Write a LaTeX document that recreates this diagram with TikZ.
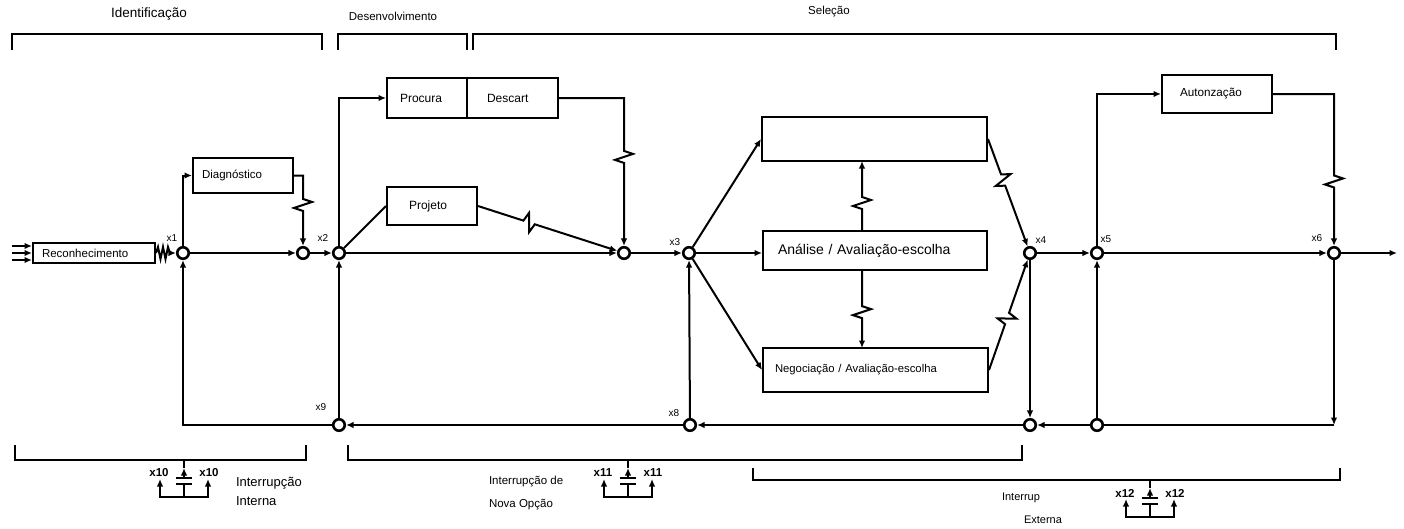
\documentclass[tikz,border=0pt]{standalone}
\usepackage{fontspec}
\setmainfont{Liberation Sans}
\usetikzlibrary{arrows.meta,calc}

\tikzset{
  box/.style={draw, align=left, inner ysep=0pt},
  junc/.style={circle, draw, line width=2.6pt, fill=white, minimum size=11.5pt, inner sep=0pt},
  arr/.style={-{Latex[length=7.5pt,width=6.5pt]}},
  tag/.style={font=\fontsize{10}{12}\selectfont, inner sep=0pt},
  itag/.style={font=\bfseries\fontsize{11.5}{13}\selectfont, inner sep=0pt},
  note/.style={inner sep=0pt, anchor=west},
  % broken (delayed) connection
  brk/.style={to path={
      -- ($(\tikztostart)!#1!(\tikztotarget)!6pt!(\tikztostart)$)
      -- ($(\tikztostart)!#1!(\tikztotarget)!3pt!(\tikztostart)!9pt!90:(\tikztotarget)$)
      -- ($(\tikztostart)!#1!(\tikztotarget)!3pt!(\tikztotarget)!9pt!90:(\tikztostart)$)
      -- ($(\tikztostart)!#1!(\tikztotarget)!6pt!(\tikztotarget)$)
      -- (\tikztotarget)}},
}

\begin{document}
\begin{tikzpicture}[x=1pt, y=-1pt, line width=2pt]
  \useasboundingbox (0,0) rectangle (1404,528);

  % phases
  \foreach \a/\b in {12/322, 338/467, 473/1336}
    \draw (\a,50) |- (\b,34) -- (\b,50);
  \node[font=\fontsize{13.5}{15}\selectfont] (pid) at (149,14) {Identificação};
  \node[font=\fontsize{11.5}{13}\selectfont] (pdes) at (393,16) {Desenvolvimento};
  \node[font=\fontsize{11.5}{13}\selectfont] (psel) at (829,12) {Seleção};

  % routines
  \node[box, font=\fontsize{11.5}{13}\selectfont, text width=104pt, inner xsep=9pt, minimum height=20pt]
    (rec) at (94,253) {Reconhecimento};
  \node[box, font=\fontsize{11.5}{13}\selectfont, text width=82pt, inner xsep=9pt, minimum height=35pt]
    (diag) at (243,175.5) {Diagnóstico};
  \node[box, font=\fontsize{12}{14}\selectfont, text width=54pt, inner xsep=13pt, minimum height=40pt]
    (proc) at (427,98) {Procura};
  \node[box, font=\fontsize{12}{14}\selectfont, text width=51pt, inner xsep=20pt, minimum height=40pt]
    (desc) at (512.5,98) {Descart};
  \node[box, font=\fontsize{12}{14}\selectfont, text width=46pt, inner xsep=22pt, minimum height=38pt]
    (proj) at (432,206) {Projeto};
  \node[box, minimum width=225pt, minimum height=44pt] (topb) at (874.5,139) {};
  \node[box, font=\fontsize{14}{16}\selectfont, text width=194pt, inner xsep=15pt, minimum height=39pt]
    (anal) at (875,250.5) {Análise / Avaliação-escolha};
  \node[box, font=\fontsize{11.3}{13}\selectfont, text width=201pt, inner xsep=12pt, minimum height=44pt]
    (nego) at (875.5,370) {Negociação / Avaliação-escolha};
  \node[box, font=\fontsize{11.7}{13}\selectfont, text width=74pt, inner xsep=18pt, minimum height=38pt]
    (auto) at (1217,94) {Autonzação};

  % junctions
  \foreach \n/\px/\py in {x1/183/253, c1/303/253, x2/339/253, c2/624/253,
      x3/689/253, x4/1030/253, x5/1097/253, x6/1334/253,
      x9/339/425, x8/690/425, b4/1030/425, b5/1097/425}
    \node[junc] (\n) at (\px,\py) {};
  \foreach \n/\px/\py in {x1/172/238, x2/323/238, x3/675/242, x4/1041/240,
      x5/1106/239, x6/1317/238, x9/321/407, x8/674/413}
    \node[tag] (t\n) at (\px,\py) {\n};

  \coordinate (k1) at (diag.east -| c1);
  \coordinate (k2) at (desc.east -| c2);
  \coordinate (k3) at (auto.east -| x6);
  \coordinate (k6) at (x6 |- b5);
  \coordinate (v1) at (862,231);
  \coordinate (v2) at (862,161);
  \coordinate (v3) at (862,270);
  \coordinate (v4) at (862,348);
  \coordinate (out) at (1397,253);

  % identification
  \foreach \i/\yy in {1/246, 2/253, 3/260} {
    \coordinate (in\i) at (12,\yy);
    \draw[arr] (in\i) -- (in\i -| rec.west);
  }
  \draw[arr] (rec.east) -- ++(2,-6) -- ++(2.5,12) -- ++(2.5,-12) -- ++(2.5,12)
    -- ++(2.5,-12) -- ++(2,6) -- (x1);
  \draw[arr] (x1) |- (diag.west);
  \draw[arr] (diag.east) -- (k1) to[brk=.38] (c1);
  \draw[arr] (x1) -- (c1);
  \draw[arr] (c1) -- (x2);

  % development
  \draw[arr] (x2) |- (proc.west);
  \draw (x2) -- (proj.west);
  \draw[arr] (desc.east) -- (k2) to[brk=.38] (c2);
  \draw[arr] (proj.east) to[brk=.35] (c2);
  \draw[arr] (x2) -- (c2);
  \draw[arr] (c2) -- (x3);

  % selection
  \draw[arr] (x3) -- (topb.west);
  \draw[arr] (x3) -- (x3 -| anal.west);
  \draw[arr] (x3) -- (nego.west);
  \draw[arr] (v1) to[brk=.4] (v2);
  \draw[arr] (v3) to[brk=.54] (v4);
  \draw[arr] (topb.east) to[brk=.36] (x4);
  \draw[arr] (nego.east) to[brk=.44] (x4);
  \draw[arr] (x4) -- (b4);
  \draw[arr] (x4) -- (x5);
  \draw[arr] (x5) |- (auto.west);
  \draw[arr] (auto.east) -- (k3) to[brk=.55] (x6);
  \draw[arr] (x5) -- (x6);
  \draw[arr] (x6) -- (out);

  % recycles
  \draw[arr] (x6) -- (k6);
  \draw (k6) -- (b5);
  \draw[arr] (b5) -- (x5);
  \draw[arr] (b5) -- (b4);
  \draw[arr] (b4) -- (x8);
  \draw[arr] (x8) -- (x3);
  \draw[arr] (x8) -- (x9);
  \draw[arr] (x9) -- (x2);
  \draw[arr] (x9) -| (x1);

  % interruptions
  \foreach \a/\b/\t/\u in {15/306/445/460, 348/1022/445/460, 753/1340/468/480}
    \draw (\a,\t) |- (\b,\u) -- (\b,\t);
  \foreach \sx/\sy/\lab in {184/460/x10, 628/460/x11, 1150/480/x12} {
    \draw[arr] (\sx,\sy+18) -- (\sx,\sy+8);
    \draw (\sx,\sy+8) -- (\sx,\sy);
    \draw (\sx-8,\sy+18) -- (\sx+8,\sy+18) (\sx-8,\sy+24) -- (\sx+8,\sy+24);
    \draw (\sx,\sy+24) -- (\sx,\sy+37);
    \draw[arr] (\sx,\sy+37) -| (\sx-24,\sy+19);
    \draw[arr] (\sx,\sy+37) -| (\sx+24,\sy+19);
    \node[itag] (\lab-l) at (\sx-25,\sy+13) {\lab};
    \node[itag] (\lab-r) at (\sx+25,\sy+13) {\lab};
  }
  \node[note, font=\fontsize{13}{15}\selectfont] (ni1) at (235,483) {Interrupção};
  \node[note, font=\fontsize{13}{15}\selectfont] (ni2) at (235,501) {Interna};
  \node[note, font=\fontsize{11.5}{13}\selectfont] (nn1) at (488,482) {Interrupção de};
  \node[note, font=\fontsize{11.5}{13}\selectfont] (nn2) at (488,505) {Nova Opção};
  \node[font=\fontsize{11}{13}\selectfont, inner sep=0pt] (ne1) at (1021,498) {Interrup};
  \node[font=\fontsize{11}{13}\selectfont, inner sep=0pt] (ne2) at (1043,520) {Externa};
\end{tikzpicture}
\end{document}
